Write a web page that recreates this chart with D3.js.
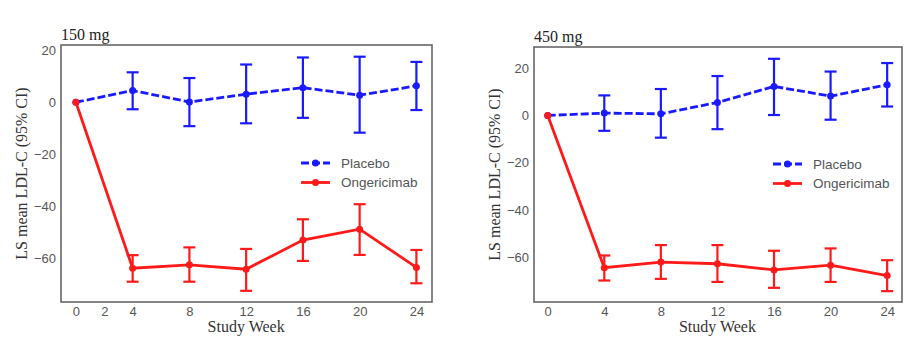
<!DOCTYPE html>
<html><head><meta charset="utf-8">
<script src="https://cdn.jsdelivr.net/npm/d3@7"></script>
<style>body{margin:0;background:#fff}</style>
</head><body>
<svg id="c" width="919" height="358"></svg>
<script>
const weeks = [0, 4, 8, 12, 16, 20, 24];
const seriesNames = ["Placebo", "Ongericimab"];
const panelTitles = ["150 mg", "450 mg"];
const xTicksLeft = [0, 2, 4, 8, 12, 16, 20, 24];
const xTicksRight = [0, 4, 8, 12, 16, 20, 24];
const yTicks = [20, 0, -20, -40, -60];

// 150 mg
const placebo150 = [0, 4.5, 0.1, 3.1, 5.6, 2.7, 6.3];
const placebo150Lo = [0, -2.7, -9.2, -8.1, -6.0, -11.7, -3.0];
const placebo150Hi = [0, 11.5, 9.3, 14.5, 17.2, 17.5, 15.5];
const onger150 = [0, -63.8, -62.5, -64.2, -53.0, -48.8, -63.5];
const onger150Lo = [0, -69.0, -69.0, -72.5, -61.0, -58.7, -69.6];
const onger150Hi = [0, -58.8, -55.8, -56.4, -45.0, -39.2, -56.8];

// 450 mg
const placebo450 = [0, 1.0, 0.7, 5.5, 12.3, 8.2, 13.0];
const placebo450Lo = [0, -6.5, -9.4, -5.8, 0.2, -1.8, 3.8];
const placebo450Hi = [0, 8.5, 11.2, 16.7, 24.0, 18.6, 22.2];
const onger450 = [0, -64.5, -62.1, -62.8, -65.4, -63.4, -67.8];
const onger450Lo = [0, -69.9, -69.2, -70.5, -73.0, -70.5, -74.4];
const onger450Hi = [0, -59.3, -54.9, -54.9, -57.3, -56.3, -61.3];

const colors = ["#1a1aff", "#ff1a1a"];

const panels = [
  {title: panelTitles[0], x0: 61, x1: 432, y0: 45, y1: 302, xd: [-1.05, 25.1], yd: [-76.8, 22], xt: xTicksLeft,
   series: [[placebo150, placebo150Lo, placebo150Hi], [onger150, onger150Lo, onger150Hi]],
   legX: 301, legY: 163, ylabX: 21},
  {title: panelTitles[1], x0: 534, x1: 902, y0: 47, y1: 302, xd: [-0.97, 25.05], yd: [-79, 29], xt: xTicksRight,
   series: [[placebo450, placebo450Lo, placebo450Hi], [onger450, onger450Lo, onger450Hi]],
   legX: 773, legY: 164, ylabX: 494}
];

const svg = d3.select("#c");

panels.forEach(p => {
  const x = d3.scaleLinear().domain(p.xd).range([p.x0, p.x1]);
  const y = d3.scaleLinear().domain(p.yd).range([p.y1, p.y0]);
  const g = svg.append("g");

  // axes (labels only)
  const xa = g.append("g").attr("transform", `translate(0,${p.y1})`)
    .call(d3.axisBottom(x).tickValues(p.xt).tickSize(0).tickPadding(5));
  const ya = g.append("g").attr("transform", `translate(${p.x0},0)`)
    .call(d3.axisLeft(y).tickValues(yTicks).tickSize(0).tickPadding(5).tickFormat(d => d < 0 ? "\u2212" + Math.abs(d) : d));
  [xa, ya].forEach(a => {
    a.select(".domain").remove();
    a.selectAll("text").attr("font-family", "Liberation Sans, Arial, sans-serif")
      .attr("font-size", 13).attr("fill", "#555");
  });

  // frame
  g.append("rect").attr("x", p.x0).attr("y", p.y0).attr("width", p.x1 - p.x0).attr("height", p.y1 - p.y0)
    .attr("fill", "none").attr("stroke", "#666").attr("stroke-width", 1.6);

  // title
  g.append("text").attr("x", p.x0).attr("y", p.y0 - 5).text(p.title)
    .attr("font-family", "Liberation Serif, Times New Roman, serif").attr("font-size", 16).attr("fill", "#222");

  // axis labels
  g.append("text").attr("x", (x(0) + x(24)) / 2).attr("y", 332).attr("text-anchor", "middle")
    .text("Study Week").attr("font-family", "Liberation Serif, Times New Roman, serif").attr("font-size", 16).attr("fill", "#333");
  g.append("text").attr("transform", `translate(${p.ylabX},${(p.y0 + p.y1) / 2}) rotate(-90)`)
    .attr("text-anchor", "middle").attr("dy", "0.35em")
    .text("LS mean LDL-C (95% CI)").attr("font-family", "Liberation Serif, Times New Roman, serif").attr("font-size", 16).attr("fill", "#333");

  // series
  p.series.forEach((s, si) => {
    const [mean, lo, hi] = s;
    const col = colors[si];
    const pts = weeks.map((w, i) => ({w, m: mean[i], lo: lo[i], hi: hi[i]}));
    const line = d3.line().x(d => x(d.w)).y(d => y(d.m));
    g.append("path").datum(pts).attr("d", line).attr("fill", "none").attr("stroke", col)
      .attr("stroke-width", 2.8).attr("stroke-dasharray", si === 0 ? "8,3" : null);
    const eb = g.append("g").attr("stroke", col).attr("stroke-width", 2.2);
    pts.filter(d => d.w > 0).forEach(d => {
      eb.append("line").attr("x1", x(d.w)).attr("x2", x(d.w)).attr("y1", y(d.lo)).attr("y2", y(d.hi));
      eb.append("line").attr("x1", x(d.w) - 6).attr("x2", x(d.w) + 6).attr("y1", y(d.lo)).attr("y2", y(d.lo));
      eb.append("line").attr("x1", x(d.w) - 6).attr("x2", x(d.w) + 6).attr("y1", y(d.hi)).attr("y2", y(d.hi));
    });
    g.selectAll(null).data(pts).enter().append("circle")
      .attr("cx", d => x(d.w)).attr("cy", d => y(d.m)).attr("r", 3.5).attr("fill", col);

    // legend
    const ly = p.legY + si * 19.5;
    g.append("line").attr("x1", p.legX).attr("x2", p.legX + 29).attr("y1", ly).attr("y2", ly)
      .attr("stroke", col).attr("stroke-width", 2.8).attr("stroke-dasharray", si === 0 ? "8,3" : null);
    g.append("circle").attr("cx", p.legX + 14.5).attr("cy", ly).attr("r", 3.5).attr("fill", col);
    g.append("text").attr("x", p.legX + 40).attr("y", ly).attr("dy", "0.35em").text(seriesNames[si])
      .attr("font-family", "Liberation Sans, Arial, sans-serif").attr("font-size", 13.5).attr("fill", "#555");
  });
});
</script>
</body></html>
